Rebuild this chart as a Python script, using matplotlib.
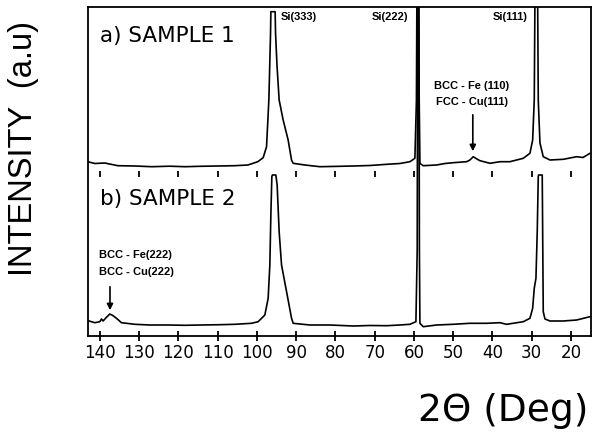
import numpy as np
import matplotlib
matplotlib.use("Agg")
import matplotlib.pyplot as plt

# 2theta (deg) e intensidade (u.a.)
two_theta_s1 = [143.06, 141.27, 138.73, 135.41, 131.08, 126.75, 122.17, 118.34, 114.52, 109.94,
                105.61, 102.29, 99.75, 98.39, 97.53, 96.94, 96.51, 96.43, 95.34, 95.24,
                94.85, 94.32, 93.30, 92.03, 91.17, 90.75, 87.77, 83.95, 78.85, 75.54,
                71.21, 66.88, 63.57, 61.02, 59.75, 59.36, 59.24, 58.78, 58.65, 58.47,
                57.63, 54.24, 52.10, 49.99, 46.57, 45.73, 44.89, 43.95, 43.18, 40.64,
                38.09, 35.54, 32.15, 30.45, 29.76, 29.35, 29.17, 28.49, 28.33, 27.90,
                27.06, 25.35, 21.96, 18.55, 16.94, 15.16]
intensity_s1 = [14.3, 12.5, 13.0, 10.3, 10.0, 9.3, 9.8, 9.3, 9.7, 10.0,
                10.3, 11.0, 14.3, 18.3, 29.3, 76.0, 143.0, 164.3, 164.3, 143.0,
                109.3, 76.0, 56.0, 36.0, 16.0, 12.7, 11.0, 9.3, 9.7, 10.0,
                10.5, 11.7, 12.5, 14.3, 17.7, 76.0, 180.0, 180.0, 76.0, 12.7,
                10.3, 11.0, 12.5, 13.3, 14.3, 16.0, 19.3, 17.0, 15.3, 12.7,
                14.3, 14.3, 17.7, 22.7, 36.0, 76.0, 180.0, 180.0, 76.0, 33.0,
                19.3, 16.0, 16.7, 19.3, 18.5, 22.7]

two_theta_s2 = [142.98, 141.27, 140.00, 139.57, 139.16, 138.47, 137.45, 136.69, 135.75, 134.47,
                131.08, 127.26, 122.60, 118.34, 114.09, 109.43, 105.61, 101.35, 99.67, 98.39,
                97.96, 97.12, 96.69, 96.43, 96.18, 96.05, 95.16, 94.83, 94.32, 93.71,
                92.43, 91.16, 90.75, 86.50, 81.40, 75.46, 71.21, 66.96, 63.57, 61.02,
                59.49, 59.16, 59.03, 58.73, 58.60, 58.47, 57.63, 54.24, 49.99, 45.73,
                41.48, 38.09, 36.39, 32.15, 30.45, 29.76, 29.35, 28.92, 28.59, 28.33,
                28.26, 27.32, 27.21, 27.06, 26.62, 25.35, 21.96, 18.55, 15.16]
intensity_s2 = [15.3, 13.3, 14.3, 17.0, 15.0, 18.0, 22.0, 20.5, 17.7, 13.3,
                11.7, 11.0, 11.0, 10.7, 11.0, 11.3, 11.7, 12.7, 14.3, 19.3,
                21.0, 37.7, 71.0, 121.0, 159.3, 161.0, 161.0, 151.0, 104.3, 71.0,
                44.3, 17.7, 12.7, 11.0, 11.0, 10.0, 10.5, 10.3, 11.0, 11.7,
                14.3, 86.0, 340.0, 340.0, 86.0, 12.7, 9.3, 11.0, 11.7, 12.7,
                12.7, 13.3, 11.7, 14.3, 17.7, 27.7, 47.7, 57.7, 104.3, 159.3,
                161.0, 161.0, 104.3, 24.3, 17.0, 15.0, 15.0, 16.0, 19.3]

offset_s1 = 160.0
x_ticks = [140, 130, 120, 110, 100, 90, 80, 70, 60, 50, 40, 30, 20]

fig = plt.figure(figsize=(5.97, 4.41), dpi=100)
ax = fig.add_axes([88 / 597, 1 - 336 / 441, (591 - 88) / 597, (336 - 7) / 441])

ax.plot(two_theta_s1, np.array(intensity_s1) + offset_s1, color="black", lw=1.2)
ax.plot(two_theta_s2, intensity_s2, color="black", lw=1.2)

ax.set_xlim(143.0, 14.9)
ax.set_ylim(0, 329)
ax.set_yticks([])
ax.set_xticks(x_ticks)
ax.tick_params(axis="x", direction="inout", length=7, width=1.3, pad=2, labelsize=12)
for s in ax.spines.values():
    s.set_linewidth(1.3)

# ticks no meio, entre as duas amostras
sec = ax.secondary_xaxis(162.5 / 329)
sec.set_xticks(x_ticks)
sec.tick_params(direction="inout", length=5, width=1.3, labeltop=False, labelbottom=False)
for s in sec.spines.values():
    s.set_visible(False)

ax.text(140.0, 300, "a) SAMPLE 1", fontsize=15.5, ha="left", va="center")
ax.text(140.0, 137, "b) SAMPLE 2", fontsize=15.5, ha="left", va="center")

small = dict(fontsize=8, fontweight="bold", family="Liberation Sans")
ax.text(93.9, 319, "Si(333)", ha="left", va="center", **small)
ax.text(61.5, 319, "Si(222)", ha="right", va="center", **small)
ax.text(31.0, 319, "Si(111)", ha="right", va="center", **small)

ax.text(45.2, 250, "BCC - Fe (110)", ha="center", va="center", **small)
ax.text(45.2, 234, "FCC - Cu(111)", ha="center", va="center", **small)
ax.annotate("", xy=(45.0, 182), xytext=(45.0, 224),
            arrowprops=dict(arrowstyle="-|>", color="black", lw=1.2, mutation_scale=9))

ax.text(140.3, 81, "BCC - Fe(222)", ha="left", va="center", **small)
ax.text(140.3, 64, "BCC - Cu(222)", ha="left", va="center", **small)
ax.annotate("", xy=(137.4, 23), xytext=(137.4, 52),
            arrowprops=dict(arrowstyle="-|>", color="black", lw=1.2, mutation_scale=9))

fig.text(24 / 597, 1 - 148 / 441, "INTENSITY  (a.u)", rotation=90, ha="center", va="center",
         fontsize=23.5, family="Liberation Sans")
fig.text(588 / 597, 1 - 411 / 441, "2\u0398 (Deg)", ha="right", va="center", fontsize=27)

fig.savefig("out.png", dpi=100, facecolor="white")
